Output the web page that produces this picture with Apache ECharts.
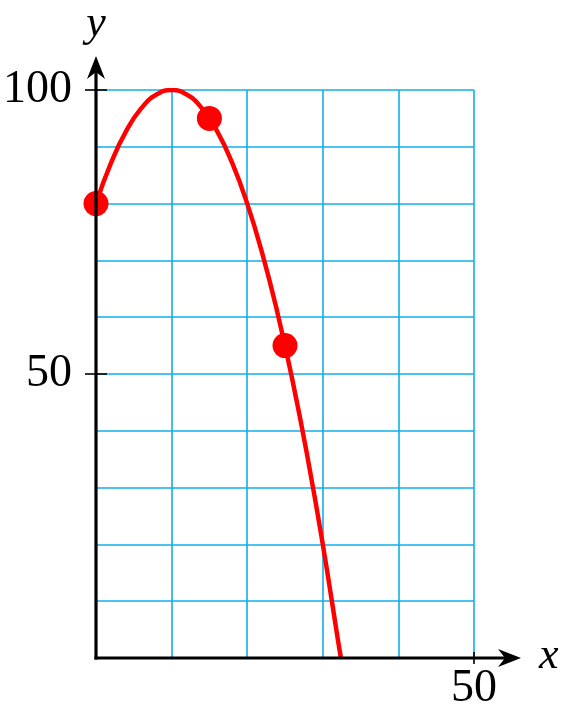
<!DOCTYPE html>
<html><head><meta charset="utf-8">
<script src="https://cdn.jsdelivr.net/npm/echarts@6/dist/echarts.min.js"></script>
<style>html,body{margin:0;padding:0;background:#fff}#c{width:567px;height:713px}</style>
</head><body><div id="c"></div>
<script>
// Data
const xTickLabels = [50];
const yTickLabels = [50, 100];
const curveX = [0, 2, 4, 6, 8, 10, 12, 14, 16, 18, 20, 22, 24, 26, 28, 30, 32, 32.4];
const curveY = [80, 87.2, 92.8, 96.8, 99.2, 100, 99.2, 96.8, 92.8, 87.2, 80, 71.2, 60.8, 48.8, 35.2, 20, 3.2, 0];
const pointX = [0, 15, 25];
const pointY = [80, 95, 55];

const FONT = "'Liberation Serif', 'DejaVu Serif', serif";
const GRID = '#11aee9';
const chart = echarts.init(document.getElementById('c'));
const hidden = {axisLine: {show: false}, splitLine: {show: false}};
const option = {
  animation: false,
  grid: {left: 96, right: 93, top: 90, bottom: 55, containLabel: false},
  xAxis: [{
    type: 'value', min: 0, max: 50, interval: 10,
    axisLine: {show: false}, axisTick: {show: false}, axisLabel: {show: false},
    splitLine: {show: true, lineStyle: {color: GRID, width: 1.6}}
  }, Object.assign({
    type: 'value', min: 0, max: 50, position: 'bottom',
    axisTick: {show: true, customValues: xTickLabels, length: 6, inside: false, lineStyle: {color: '#000', width: 1.6}},
    axisLabel: {customValues: xTickLabels, fontFamily: FONT, fontSize: 46, color: '#000', margin: 8}
  }, hidden), Object.assign({
    type: 'value', min: 0, max: 50, position: 'bottom',
    axisTick: {show: true, customValues: xTickLabels, length: 6, inside: true, lineStyle: {color: '#000', width: 1.6}},
    axisLabel: {show: false}
  }, hidden)],
  yAxis: [{
    type: 'value', min: 0, max: 100, interval: 10,
    axisLine: {show: false}, axisTick: {show: false}, axisLabel: {show: false},
    splitLine: {show: true, lineStyle: {color: GRID, width: 1.6}}
  }, Object.assign({
    type: 'value', min: 0, max: 100, position: 'left',
    axisTick: {show: true, customValues: yTickLabels, length: 11, inside: false, lineStyle: {color: '#000', width: 1.6}},
    axisLabel: {customValues: yTickLabels, fontFamily: FONT, fontSize: 46, color: '#000', margin: 24}
  }, hidden), Object.assign({
    type: 'value', min: 0, max: 100, position: 'left',
    axisTick: {show: true, customValues: yTickLabels, length: 11, inside: true, lineStyle: {color: '#000', width: 1.6}},
    axisLabel: {show: false}
  }, hidden)],
  series: [{
    type: 'line', smooth: true, showSymbol: false, z: 3, xAxisIndex: 0, yAxisIndex: 0,
    data: curveX.map((x, i) => [x, curveY[i]]),
    lineStyle: {color: '#ff0000', width: 4.5}
  }, {
    type: 'scatter', symbolSize: 25, z: 4, xAxisIndex: 0, yAxisIndex: 0,
    data: pointX.map((x, i) => [x, pointY[i]]),
    itemStyle: {color: '#ff0000', opacity: 1}
  }]
};
chart.setOption(option);

const o = chart.convertToPixel({gridIndex: 0}, [0, 0]);
const yTop = chart.convertToPixel({gridIndex: 0}, [0, 100]);
const xEnd = chart.convertToPixel({gridIndex: 0}, [50, 0]);
const yTip = yTop[1] - 34, xTip = xEnd[0] + 47;
chart.setOption({
  graphic: [
    {type: 'line', z: 10, shape: {x1: o[0], y1: o[1] + 1.5, x2: o[0], y2: yTip + 8}, style: {stroke: '#000', lineWidth: 3.2}},
    {type: 'line', z: 10, shape: {x1: o[0] - 1.6, y1: o[1], x2: xTip - 8, y2: o[1]}, style: {stroke: '#000', lineWidth: 3.2}},
    {type: 'polygon', z: 11, shape: {points: [[o[0], yTip], [o[0] - 9, yTip + 23], [o[0], yTip + 16], [o[0] + 9, yTip + 23]]}, style: {fill: '#000'}},
    {type: 'polygon', z: 11, shape: {points: [[xTip, o[1]], [xTip - 23, o[1] - 9], [xTip - 16, o[1]], [xTip - 23, o[1] + 9]]}, style: {fill: '#000'}},
    {type: 'text', z: 11, x: o[0], y: yTip - 10, style: {text: 'y', font: "italic 44px " + FONT, fill: '#000', align: 'center', verticalAlign: 'bottom'}},
    {type: 'text', z: 11, x: xTip + 18, y: o[1] - 2, style: {text: 'x', font: "italic 44px " + FONT, fill: '#000', align: 'left', verticalAlign: 'middle'}}
  ]
});
</script></body></html>
